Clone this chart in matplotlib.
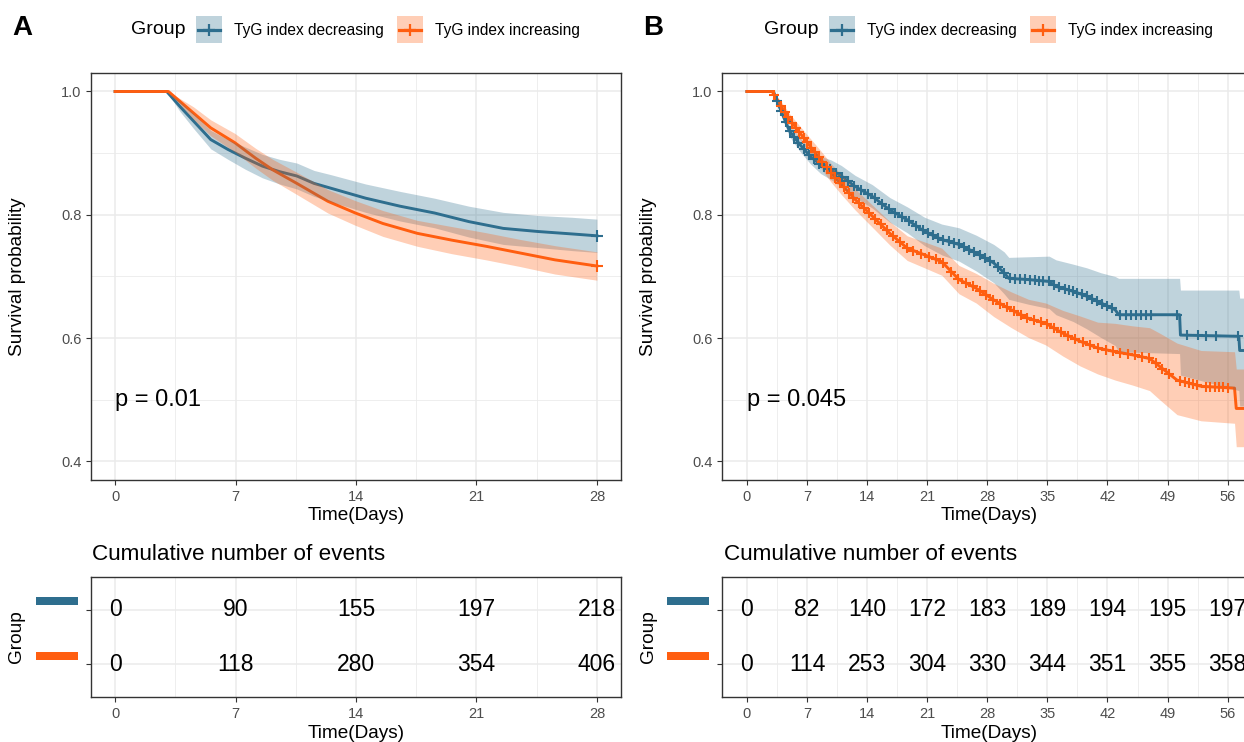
import numpy as np
import matplotlib
matplotlib.use("Agg")
import matplotlib.pyplot as plt
from matplotlib.patches import Rectangle
from matplotlib.lines import Line2D

plt.rcParams['font.family'] = ['Liberation Sans', 'DejaVu Sans']

W, H = 1244, 742
BLUE = '#2E6E8E'
ORANGE = '#FF5E10'
GRID = '#EBEBEB'
DARK = '#333333'
TICKC = '#4D4D4D'

group_labels = ['TyG index decreasing', 'TyG index increasing']

# ---- panel A: survival curves (28 days) ----
a_ticks = [0, 7, 14, 21, 28]
a_dec_t = [0, 3.0, 3.76, 4.56, 5.56, 6.56, 7.56, 8.56, 9.56, 10.56, 11.56, 12.56,
           14.56, 16.56, 18.56, 20.56, 22.56, 24.56, 26.56, 28]
a_dec_s = [1, 1, 0.976, 0.952, 0.922, 0.906, 0.892, 0.879, 0.870, 0.863, 0.851, 0.843,
           0.827, 0.814, 0.803, 0.789, 0.778, 0.773, 0.769, 0.766]
a_dec_lo = [1, 1, 0.968, 0.940, 0.907, 0.890, 0.874, 0.860, 0.850, 0.842, 0.830, 0.821,
            0.804, 0.790, 0.779, 0.764, 0.752, 0.747, 0.742, 0.739]
a_dec_hi = [1, 1, 0.984, 0.964, 0.937, 0.922, 0.910, 0.898, 0.890, 0.884, 0.872, 0.865,
            0.850, 0.838, 0.827, 0.814, 0.804, 0.799, 0.796, 0.793]
a_dec_cens = [28]

a_inc_t = [0, 3.1, 4.56, 5.56, 6.96, 8.16, 9.16, 10.56, 12.36, 13.96, 15.56, 17.56,
           19.56, 21.56, 23.56, 25.56, 28]
a_inc_s = [1, 1, 0.965, 0.941, 0.917, 0.892, 0.873, 0.851, 0.822, 0.803, 0.786, 0.770,
           0.759, 0.749, 0.738, 0.727, 0.717]
a_inc_lo = [1, 1, 0.955, 0.928, 0.902, 0.876, 0.856, 0.833, 0.803, 0.783, 0.765, 0.749,
            0.737, 0.727, 0.716, 0.704, 0.694]
a_inc_hi = [1, 1, 0.975, 0.954, 0.932, 0.908, 0.890, 0.869, 0.841, 0.823, 0.807, 0.791,
            0.781, 0.771, 0.760, 0.750, 0.740]
a_inc_cens = [28]

a_events_dec = [0, 90, 155, 197, 218]
a_events_inc = [0, 118, 280, 354, 406]

# ---- panel B: survival curves (about 60 days) ----
b_ticks = [0, 7, 14, 21, 28, 35, 42, 49, 56]
b_dec_t = [0, 3.1, 3.75, 4.96, 6.17, 7.38, 8.59, 9.8, 11.0, 12.6, 14.6, 16.65, 18.67,
           20.7, 22.7, 24.7, 26.7, 28.75, 29.96, 30.5, 32.8, 35.2, 36.0, 38.0, 39.6,
           41.25, 42.9, 43.3, 50.4, 50.5, 57.3, 57.4, 60]
b_dec_s = [1, 1, 0.976, 0.936, 0.914, 0.895, 0.881, 0.873, 0.863, 0.846, 0.830, 0.808,
           0.792, 0.773, 0.760, 0.752, 0.738, 0.722, 0.706, 0.697, 0.695, 0.692, 0.684,
           0.676, 0.668, 0.657, 0.646, 0.638, 0.638, 0.605, 0.603, 0.580, 0.580]
b_dec_lo = [1, 1, 0.970, 0.927, 0.903, 0.883, 0.867, 0.857, 0.846, 0.828, 0.811, 0.788,
            0.771, 0.750, 0.735, 0.725, 0.709, 0.690, 0.672, 0.663, 0.655, 0.648, 0.638,
            0.627, 0.615, 0.601, 0.588, 0.578, 0.575, 0.540, 0.515, 0.490, 0.490]
b_dec_hi = [1, 1, 0.982, 0.945, 0.925, 0.907, 0.895, 0.889, 0.880, 0.864, 0.849, 0.828,
            0.813, 0.796, 0.785, 0.779, 0.767, 0.752, 0.740, 0.731, 0.732, 0.733, 0.727,
            0.720, 0.714, 0.706, 0.700, 0.697, 0.697, 0.678, 0.678, 0.665, 0.665]
b_dec_cens = [3.5, 4.0, 4.5, 5.0, 5.5, 6.0, 6.6, 7.2, 7.8, 8.4, 9.0, 9.7, 10.4, 11.1,
              11.8, 12.5, 13.3, 14.1, 14.9, 15.7, 16.5, 17.3, 18.1, 18.9, 19.7, 20.5,
              21.1, 21.7, 22.3, 22.9, 23.5, 24.1, 24.7, 25.3, 25.9, 26.5, 27.1, 27.7,
              28.3, 29.2, 30.0, 30.6, 31.2, 31.8, 32.4, 33.0, 33.5, 34.0, 34.5, 35.2,
              35.8, 36.4, 37.0, 37.5, 38.0, 38.5, 39.0, 39.6, 40.2, 40.8, 41.4, 42.0,
              42.5, 43.5, 44.1, 44.7, 45.3, 45.9, 46.5, 47.1, 50.1, 51.3, 52.5, 53.5,
              54.6, 57.2]

b_inc_t = [0, 2.94, 3.75, 4.96, 6.17, 7.38, 8.59, 9.8, 11.0, 12.6, 14.6, 16.65, 18.67,
           20.7, 22.7, 24.7, 26.7, 28.75, 30.8, 32.8, 34.8, 36.8, 38.8, 40.85, 42.9,
           44.9, 46.9, 48.1, 50.1, 52.9, 56.8, 57.0, 60]
b_inc_s = [1, 1, 0.982, 0.955, 0.933, 0.911, 0.890, 0.868, 0.849, 0.825, 0.798, 0.770,
           0.746, 0.735, 0.724, 0.695, 0.681, 0.662, 0.646, 0.632, 0.624, 0.608, 0.595,
           0.584, 0.578, 0.573, 0.567, 0.554, 0.532, 0.522, 0.519, 0.486, 0.486]
b_inc_lo = [1, 1, 0.976, 0.946, 0.922, 0.898, 0.876, 0.853, 0.833, 0.808, 0.780, 0.751,
            0.726, 0.714, 0.702, 0.672, 0.657, 0.635, 0.617, 0.601, 0.589, 0.571, 0.555,
            0.542, 0.532, 0.524, 0.515, 0.500, 0.476, 0.466, 0.462, 0.424, 0.424]
b_inc_hi = [1, 1, 0.988, 0.964, 0.944, 0.924, 0.904, 0.883, 0.865, 0.842, 0.816, 0.789,
            0.766, 0.756, 0.746, 0.718, 0.705, 0.689, 0.675, 0.663, 0.657, 0.645, 0.636,
            0.626, 0.624, 0.620, 0.617, 0.608, 0.592, 0.580, 0.578, 0.550, 0.550]
b_inc_cens = [3.2, 4.0, 4.4, 4.8, 5.3, 5.7, 6.1, 6.6, 7.0, 7.5, 7.9, 8.4, 8.8, 9.3, 9.8,
              10.3, 10.8, 11.3, 11.9, 12.4, 13.0, 13.6, 14.2, 14.9, 15.6, 16.3, 17.0,
              17.8, 18.6, 19.4, 20.3, 21.2, 22.0, 22.9, 23.8, 24.6, 25.5, 26.3, 27.1,
              27.9, 28.7, 29.5, 30.3, 31.1, 31.9, 32.6, 33.4, 34.2, 35.0, 35.8, 36.6,
              37.4, 38.2, 39.1, 40.0, 40.9, 41.8, 42.7, 43.5, 44.4, 45.2, 46.0, 46.8,
              47.6, 48.4, 49.2, 50.5, 51.0, 51.5, 52.0, 52.4, 53.5, 54.0, 54.5, 55.0,
              55.5, 56.0]

b_events_dec = [0, 82, 140, 172, 183, 189, 194, 195, 197]
b_events_inc = [0, 114, 253, 304, 330, 344, 351, 355, 358]


fig = plt.figure(figsize=(W / 100, H / 100), dpi=100)


def box(l, t, r, b):
    return [l / W, 1 - b / H, (r - l) / W, (b - t) / H]


def ftext(x, y, s, **kw):
    fig.text(x / W, 1 - y / H, s, **kw)


def base_style(ax, ticks, xlim):
    ax.set_xticks(ticks)
    ax.set_xticks([t + 3.5 for t in ticks], minor=True)
    ax.set_xlim(*xlim)
    for sp in ax.spines.values():
        sp.set_color(DARK)
        sp.set_linewidth(1.0)
    ax.tick_params(which='major', length=3.5, width=0.8, color=DARK,
                   labelsize=10.5, labelcolor=TICKC)
    ax.tick_params(which='minor', length=0)
    ax.grid(which='major', color=GRID, lw=1.1)
    ax.grid(which='minor', color=GRID, lw=0.6)
    ax.set_axisbelow(True)


def surv_panel(ax, curves, ticks, xlim, ptext, ms):
    base_style(ax, ticks, xlim)
    ax.set_yticks([0.4, 0.6, 0.8, 1.0])
    ax.set_yticks([0.5, 0.7, 0.9], minor=True)
    ax.set_yticklabels(['0.4', '0.6', '0.8', '1.0'])
    ax.set_ylim(0.37, 1.03)
    for (t, s, lo, hi, cens), col in curves:
        ax.plot(t, s, color=col, lw=2.1, zorder=2)
    for (t, s, lo, hi, cens), col in curves:
        ax.fill_between(t, lo, hi, color=col, alpha=0.3, lw=0, zorder=3)
    for (t, s, lo, hi, cens), col in curves:
        cy = np.interp(cens, t, s)
        ax.plot(cens, cy, ls='none', marker='+', color=col, ms=ms, mew=1.5, zorder=4)
    ax.text(0, 0.5, ptext, ha='left', va='center', fontsize=17)


def table_panel(ax, ticks, xlim, dec, inc):
    base_style(ax, ticks, xlim)
    ax.set_yticks([1, 2])
    ax.set_yticklabels([])
    ax.set_ylim(0.39, 2.61)
    for y, vals in ((2, dec), (1, inc)):
        for x, v in zip(ticks, vals):
            ax.text(x, y, str(v), ha='center', va='center', fontsize=16.5,
                    color='black', clip_on=False)


def legend(x0):
    ftext(x0, 30, 'Group', fontsize=14, ha='left', va='center')
    kx = x0 + 65
    for lab, col in zip(group_labels, [BLUE, ORANGE]):
        fig.add_artist(Rectangle((kx / W, 1 - 43 / H), 26 / W, 27 / H,
                                 transform=fig.transFigure, facecolor=col,
                                 alpha=0.3, lw=0))
        fig.add_artist(Line2D([(kx + 2) / W, (kx + 24) / W], [1 - 29.5 / H, 1 - 29.5 / H],
                              transform=fig.transFigure, color=col, lw=2.3))
        fig.add_artist(Line2D([(kx + 13) / W], [1 - 29.5 / H], transform=fig.transFigure,
                              color=col, marker='+', ms=9, mew=1.6, ls='none'))
        ftext(kx + 38, 30, lab, fontsize=11.2, ha='left', va='center')
        kx += 201


def group_bars(x0):
    for yc, col in ((601, BLUE), (656, ORANGE)):
        fig.add_artist(Rectangle((x0 / W, 1 - (yc + 4) / H), 42 / W, 8 / H,
                                 transform=fig.transFigure, facecolor=col, lw=0))


# ---- panel A ----
axA = fig.add_axes(box(91, 73, 621, 480))
surv_panel(axA, [((a_dec_t, a_dec_s, a_dec_lo, a_dec_hi, a_dec_cens), BLUE),
                 ((a_inc_t, a_inc_s, a_inc_lo, a_inc_hi, a_inc_cens), ORANGE)],
           a_ticks, (-1.4, 29.4), 'p = 0.01', 9)
tabA = fig.add_axes(box(91, 577, 621, 697))
table_panel(tabA, a_ticks, (-1.4, 29.4), a_events_dec, a_events_inc)

# ---- panel B (runs past the right edge of the figure) ----
axB = fig.add_axes(box(722, 73, 1256, 480))
surv_panel(axB, [((b_dec_t, b_dec_s, b_dec_lo, b_dec_hi, b_dec_cens), BLUE),
                 ((b_inc_t, b_inc_s, b_inc_lo, b_inc_hi, b_inc_cens), ORANGE)],
           b_ticks, (-2.9, 59.3), 'p = 0.045', 7)
tabB = fig.add_axes(box(722, 577, 1256, 697))
table_panel(tabB, b_ticks, (-2.9, 59.3), b_events_dec, b_events_inc)

# ---- labels ----
for x0, letter, lx, ylx, tx in ((0, 'A', 131, 18, 356), (631, 'B', 764, 649, 989)):
    ftext(22 + x0, 28, letter, fontsize=20, fontweight='bold', ha='center', va='center')
    legend(lx)
    ftext(ylx, 277, 'Survival probability', fontsize=13.7, rotation=90,
          ha='center', va='center')
    ftext(tx, 516, 'Time(Days)', fontsize=13.7, ha='center', va='center')
    ftext(tx, 733, 'Time(Days)', fontsize=13.7, ha='center', va='center')
    ftext(ylx - 1, 637, 'Group', fontsize=13.7, rotation=90, ha='center', va='center')
    ftext(92 + x0 + (1 if x0 else 0), 555, 'Cumulative number of events',
          fontsize=16.2, ha='left', va='center')
    group_bars(36 + x0)

fig.savefig('out.png', dpi=100)
